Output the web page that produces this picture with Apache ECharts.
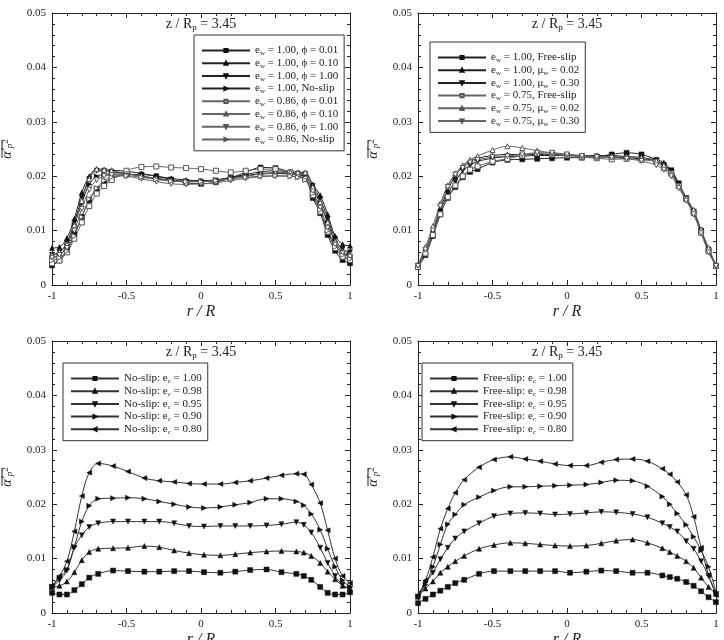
<!DOCTYPE html>
<html>
<head>
<meta charset="utf-8">
<script src="https://cdn.jsdelivr.net/npm/echarts@6/dist/echarts.min.js"></script>
<style>
  html, body { margin: 0; padding: 0; background: #fff; }
  #main { width: 724px; height: 640px; }
</style>
</head>
<body>
<div id="main"></div>
<script>
  // r/R sample positions
  const XT = [-1, -0.95, -0.9, -0.85, -0.8, -0.75, -0.7, -0.65, -0.6, -0.5, -0.4, -0.3, -0.2, -0.1, 0,
    0.1, 0.2, 0.3, 0.4, 0.5, 0.6, 0.65, 0.7, 0.75, 0.8, 0.85, 0.9, 0.95, 1];
  const XB = [-1, -0.95, -0.9, -0.85, -0.8, -0.75, -0.69, -0.59, -0.49, -0.38, -0.28, -0.18, -0.08, 0.02,
    0.13, 0.23, 0.33, 0.44, 0.54, 0.64, 0.69, 0.74, 0.8, 0.85, 0.9, 0.95, 1];

  // panel a: e_w and phi
  const namesA = ['e_w = 1.00, ϕ = 0.01', 'e_w = 1.00, ϕ = 0.10', 'e_w = 1.00, ϕ = 1.00', 'e_w = 1.00, No-slip',
    'e_w = 0.86, ϕ = 0.01', 'e_w = 0.86, ϕ = 0.10', 'e_w = 0.86, ϕ = 1.00', 'e_w = 0.86, No-slip'];
  const a1 = [0.0036, 0.0045, 0.0065, 0.0093, 0.0125, 0.0156, 0.0176, 0.0187, 0.0195, 0.0203, 0.0203, 0.0200, 0.0194, 0.0188, 0.0186, 0.0189, 0.0197, 0.0207, 0.0216, 0.0215, 0.0207, 0.0203, 0.0198, 0.0160, 0.0132, 0.0092, 0.0063, 0.0046, 0.0040];
  const a2 = [0.0068, 0.0070, 0.0086, 0.0122, 0.0170, 0.0200, 0.0213, 0.0212, 0.0211, 0.0209, 0.0205, 0.0200, 0.0196, 0.0193, 0.0192, 0.0193, 0.0198, 0.0203, 0.0208, 0.0210, 0.0208, 0.0207, 0.0206, 0.0185, 0.0165, 0.0130, 0.0090, 0.0075, 0.0072];
  const a3 = [0.0055, 0.0060, 0.0078, 0.0115, 0.0160, 0.0195, 0.0210, 0.0210, 0.0208, 0.0205, 0.0200, 0.0195, 0.0192, 0.0190, 0.0190, 0.0192, 0.0196, 0.0200, 0.0205, 0.0206, 0.0206, 0.0205, 0.0204, 0.0182, 0.0158, 0.0122, 0.0085, 0.0066, 0.0060];
  const a4 = [0.0050, 0.0055, 0.0072, 0.0110, 0.0150, 0.0185, 0.0200, 0.0203, 0.0204, 0.0204, 0.0200, 0.0196, 0.0193, 0.0191, 0.0191, 0.0193, 0.0197, 0.0201, 0.0204, 0.0205, 0.0204, 0.0203, 0.0200, 0.0176, 0.0150, 0.0115, 0.0080, 0.0060, 0.0054];
  const a5 = [0.0040, 0.0045, 0.0060, 0.0085, 0.0115, 0.0145, 0.0168, 0.0182, 0.0193, 0.0210, 0.0217, 0.0218, 0.0216, 0.0215, 0.0213, 0.0210, 0.0207, 0.0210, 0.0213, 0.0213, 0.0207, 0.0203, 0.0195, 0.0165, 0.0135, 0.0098, 0.0068, 0.0052, 0.0046];
  const a6 = [0.0055, 0.0060, 0.0075, 0.0110, 0.0155, 0.0195, 0.0213, 0.0212, 0.0210, 0.0205, 0.0200, 0.0196, 0.0192, 0.0190, 0.0190, 0.0192, 0.0196, 0.0200, 0.0204, 0.0206, 0.0207, 0.0207, 0.0207, 0.0180, 0.0152, 0.0115, 0.0080, 0.0062, 0.0056];
  const a7 = [0.0050, 0.0055, 0.0068, 0.0100, 0.0140, 0.0175, 0.0193, 0.0200, 0.0202, 0.0200, 0.0195, 0.0190, 0.0186, 0.0185, 0.0186, 0.0188, 0.0192, 0.0196, 0.0199, 0.0200, 0.0200, 0.0198, 0.0195, 0.0172, 0.0142, 0.0105, 0.0074, 0.0058, 0.0052];
  const a8 = [0.0045, 0.0050, 0.0062, 0.0090, 0.0125, 0.0158, 0.0178, 0.0192, 0.0198, 0.0201, 0.0198, 0.0194, 0.0191, 0.0190, 0.0190, 0.0192, 0.0195, 0.0198, 0.0200, 0.0201, 0.0200, 0.0198, 0.0193, 0.0168, 0.0138, 0.0100, 0.0070, 0.0055, 0.0048];

  // panel b: e_w and mu_w
  const namesB = ['e_w = 1.00, Free-slip', 'e_w = 1.00, μ_w = 0.02', 'e_w = 1.00, μ_w = 0.30',
    'e_w = 0.75, Free-slip', 'e_w = 0.75, μ_w = 0.02', 'e_w = 0.75, μ_w = 0.30'];
  const b1 = [0.0033, 0.0055, 0.0090, 0.0130, 0.0160, 0.0180, 0.0198, 0.0208, 0.0213, 0.0225, 0.0230, 0.0231, 0.0232, 0.0233, 0.0234, 0.0234, 0.0236, 0.0240, 0.0243, 0.0240, 0.0230, 0.0220, 0.0211, 0.0187, 0.0160, 0.0135, 0.0100, 0.0065, 0.0035];
  const b2 = [0.0035, 0.0065, 0.0100, 0.0140, 0.0175, 0.0200, 0.0218, 0.0228, 0.0233, 0.0238, 0.0240, 0.0240, 0.0240, 0.0240, 0.0239, 0.0238, 0.0238, 0.0238, 0.0236, 0.0234, 0.0230, 0.0225, 0.0210, 0.0185, 0.0160, 0.0135, 0.0100, 0.0065, 0.0035];
  const b3 = [0.0035, 0.0060, 0.0095, 0.0135, 0.0168, 0.0190, 0.0210, 0.0220, 0.0227, 0.0233, 0.0236, 0.0237, 0.0238, 0.0238, 0.0238, 0.0237, 0.0236, 0.0235, 0.0234, 0.0232, 0.0228, 0.0220, 0.0208, 0.0183, 0.0158, 0.0132, 0.0098, 0.0063, 0.0035];
  const b4 = [0.0033, 0.0058, 0.0092, 0.0130, 0.0162, 0.0183, 0.0200, 0.0212, 0.0218, 0.0227, 0.0232, 0.0238, 0.0242, 0.0240, 0.0238, 0.0235, 0.0233, 0.0231, 0.0232, 0.0230, 0.0226, 0.0215, 0.0205, 0.0182, 0.0158, 0.0132, 0.0096, 0.0062, 0.0035];
  const b5 = [0.0038, 0.0070, 0.0108, 0.0150, 0.0183, 0.0205, 0.0220, 0.0230, 0.0237, 0.0248, 0.0255, 0.0252, 0.0247, 0.0243, 0.0240, 0.0238, 0.0236, 0.0236, 0.0236, 0.0234, 0.0228, 0.0220, 0.0205, 0.0182, 0.0160, 0.0138, 0.0102, 0.0068, 0.0038];
  const b6 = [0.0035, 0.0065, 0.0100, 0.0145, 0.0180, 0.0203, 0.0215, 0.0225, 0.0230, 0.0235, 0.0237, 0.0240, 0.0243, 0.0243, 0.0240, 0.0237, 0.0235, 0.0234, 0.0232, 0.0228, 0.0220, 0.0212, 0.0200, 0.0178, 0.0155, 0.0130, 0.0095, 0.0060, 0.0035];

  // panel c: no-slip, e_c
  const namesC = ['No-slip: e_c = 1.00', 'No-slip: e_c = 0.98', 'No-slip: e_c = 0.95', 'No-slip: e_c = 0.90', 'No-slip: e_c = 0.80'];
  const c1 = [0.0037, 0.0034, 0.0034, 0.0042, 0.0053, 0.0065, 0.0072, 0.0078, 0.0077, 0.0076, 0.0076, 0.0077, 0.0077, 0.0075, 0.0074, 0.0076, 0.0079, 0.0080, 0.0075, 0.0072, 0.0068, 0.0061, 0.0048, 0.0037, 0.0034, 0.0034, 0.0038];
  const c2 = [0.0048, 0.0050, 0.0058, 0.0075, 0.0097, 0.0112, 0.0118, 0.0119, 0.0120, 0.0123, 0.0121, 0.0115, 0.0110, 0.0107, 0.0106, 0.0108, 0.0111, 0.0113, 0.0114, 0.0113, 0.0111, 0.0105, 0.0092, 0.0076, 0.0062, 0.0050, 0.0044];
  const c3 = [0.0048, 0.0060, 0.0078, 0.0120, 0.0143, 0.0158, 0.0165, 0.0168, 0.0168, 0.0168, 0.0168, 0.0165, 0.0160, 0.0159, 0.0160, 0.0160, 0.0160, 0.0161, 0.0163, 0.0167, 0.0162, 0.0148, 0.0120, 0.0092, 0.0068, 0.0052, 0.0045];
  const c4 = [0.0048, 0.0065, 0.0080, 0.0122, 0.0168, 0.0197, 0.0210, 0.0211, 0.0212, 0.0210, 0.0205, 0.0200, 0.0195, 0.0193, 0.0195, 0.0199, 0.0203, 0.0210, 0.0210, 0.0205, 0.0198, 0.0182, 0.0153, 0.0118, 0.0085, 0.0060, 0.0048];
  const c5 = [0.0050, 0.0068, 0.0095, 0.0150, 0.0215, 0.0258, 0.0275, 0.0270, 0.0260, 0.0248, 0.0243, 0.0241, 0.0238, 0.0237, 0.0237, 0.0240, 0.0243, 0.0248, 0.0253, 0.0256, 0.0255, 0.0236, 0.0202, 0.0152, 0.0100, 0.0068, 0.0055];

  // panel d: free-slip, e_c
  const namesD = ['Free-slip: e_c = 1.00', 'Free-slip: e_c = 0.98', 'Free-slip: e_c = 0.95', 'Free-slip: e_c = 0.90', 'Free-slip: e_c = 0.80'];
  const d1 = [0.0018, 0.0026, 0.0034, 0.0041, 0.0048, 0.0055, 0.0061, 0.0072, 0.0077, 0.0077, 0.0077, 0.0077, 0.0077, 0.0074, 0.0076, 0.0078, 0.0077, 0.0074, 0.0074, 0.0069, 0.0066, 0.0063, 0.0057, 0.0050, 0.0040, 0.0029, 0.0020];
  const d2 = [0.0030, 0.0045, 0.0058, 0.0074, 0.0085, 0.0095, 0.0105, 0.0118, 0.0125, 0.0129, 0.0128, 0.0126, 0.0124, 0.0123, 0.0124, 0.0128, 0.0133, 0.0135, 0.0129, 0.0119, 0.0112, 0.0105, 0.0095, 0.0083, 0.0065, 0.0048, 0.0035];
  const d3 = [0.0030, 0.0055, 0.0074, 0.0099, 0.0120, 0.0137, 0.0150, 0.0165, 0.0178, 0.0183, 0.0184, 0.0183, 0.0181, 0.0182, 0.0184, 0.0186, 0.0185, 0.0182, 0.0176, 0.0165, 0.0158, 0.0150, 0.0132, 0.0118, 0.0095, 0.0068, 0.0035];
  const d4 = [0.0030, 0.0052, 0.0085, 0.0126, 0.0163, 0.0181, 0.0199, 0.0213, 0.0225, 0.0232, 0.0232, 0.0233, 0.0234, 0.0235, 0.0236, 0.0240, 0.0244, 0.0243, 0.0233, 0.0214, 0.0200, 0.0183, 0.0162, 0.0140, 0.0115, 0.0085, 0.0038];
  const d5 = [0.0033, 0.0060, 0.0103, 0.0155, 0.0192, 0.0221, 0.0245, 0.0268, 0.0282, 0.0287, 0.0283, 0.0279, 0.0274, 0.0271, 0.0271, 0.0277, 0.0282, 0.0283, 0.0279, 0.0265, 0.0255, 0.0241, 0.0217, 0.0177, 0.0120, 0.0070, 0.0033];

  const FONT = 'Liberation Serif';
  const SQ = { shape: 'rect', rot: 0 }, UP = { shape: 'triangle', rot: 0 }, DN = { shape: 'triangle', rot: 180 },
    RT = { shape: 'triangle', rot: -90 }, LT = { shape: 'triangle', rot: 90 };

  const grids = [
    { left: 52, top: 13, width: 298, height: 272, outerBoundsMode: 'none' },
    { left: 418, top: 13, width: 298, height: 272, outerBoundsMode: 'none' },
    { left: 52, top: 341, width: 298, height: 272, outerBoundsMode: 'none' },
    { left: 418, top: 341, width: 298, height: 272, outerBoundsMode: 'none' }
  ];

  const tick = { show: true, inside: true, length: 5, lineStyle: { color: '#222' } };
  const minor = { show: true, splitNumber: 5, length: 3, lineStyle: { color: '#222' } };
  const line = { show: true, onZero: false, lineStyle: { color: '#222', width: 1 } };
  const lbl = { fontFamily: FONT, fontSize: 11, color: '#222' };

  const xAxis = [], yAxis = [];
  grids.forEach((g, i) => {
    xAxis[i] = {
      type: 'value', gridIndex: i, min: -1, max: 1, interval: 0.5, position: 'bottom',
      axisLine: line, axisTick: tick, minorTick: minor, splitLine: { show: false },
      axisLabel: Object.assign({ margin: 6 }, lbl),
      name: 'r / R', nameLocation: 'middle', nameGap: 19,
      nameTextStyle: { fontFamily: FONT, fontSize: 16, fontStyle: 'italic', color: '#222' }
    };
    xAxis[i + 4] = {
      type: 'value', gridIndex: i, min: -1, max: 1, interval: 0.5, position: 'top',
      axisLine: line, axisTick: tick, minorTick: minor, splitLine: { show: false }, axisLabel: { show: false }
    };
    yAxis[i] = {
      type: 'value', gridIndex: i, min: 0, max: 0.05, interval: 0.01, position: 'left',
      axisLine: line, axisTick: tick, minorTick: minor, splitLine: { show: false },
      axisLabel: Object.assign({ margin: 6, formatter: v => v === 0 ? '0' : v.toFixed(2) }, lbl),
      name: '{a|α′}{p|p}{t|2}', nameLocation: 'middle', nameRotate: 90, nameGap: 38,
      nameTextStyle: {
        fontFamily: FONT, color: '#222',
        rich: {
          a: { fontFamily: FONT, fontSize: 14, fontStyle: 'italic', lineHeight: 13 },
          p: { fontFamily: FONT, fontSize: 9, fontStyle: 'italic', lineHeight: 8, verticalAlign: 'bottom' },
          t: { fontFamily: FONT, fontSize: 9, lineHeight: 8, verticalAlign: 'top' }
        }
      }
    };
    yAxis[i + 4] = {
      type: 'value', gridIndex: i, min: 0, max: 0.05, interval: 0.01, position: 'right',
      axisLine: line, axisTick: tick, minorTick: minor, splitLine: { show: false }, axisLabel: { show: false }
    };
  });

  function pairs(xs, ys) { return xs.map((x, k) => [x, ys[k]]); }

  function mk(name, xs, ys, sym, filled, gi, lineColor) {
    return {
      name: name, type: 'line', xAxisIndex: gi, yAxisIndex: gi,
      data: pairs(xs, ys), smooth: 0.35, showAllSymbol: true,
      symbol: sym.shape, symbolRotate: sym.rot, symbolSize: 5,
      lineStyle: { color: lineColor, width: 1 },
      itemStyle: filled ? { color: '#111', borderColor: '#111', borderWidth: 0.5 }
        : { color: '#fff', borderColor: '#555', borderWidth: 1 },
      emphasis: { disabled: true }
    };
  }

  const series = [
    mk(namesA[0], XT, a1, SQ, true, 0, '#222'),
    mk(namesA[1], XT, a2, UP, true, 0, '#222'),
    mk(namesA[2], XT, a3, DN, true, 0, '#222'),
    mk(namesA[3], XT, a4, RT, true, 0, '#222'),
    mk(namesA[4], XT, a5, SQ, false, 0, '#666'),
    mk(namesA[5], XT, a6, UP, false, 0, '#666'),
    mk(namesA[6], XT, a7, DN, false, 0, '#666'),
    mk(namesA[7], XT, a8, RT, false, 0, '#666'),
    mk(namesB[0], XT, b1, SQ, true, 1, '#222'),
    mk(namesB[1], XT, b2, UP, true, 1, '#222'),
    mk(namesB[2], XT, b3, DN, true, 1, '#222'),
    mk(namesB[3], XT, b4, SQ, false, 1, '#666'),
    mk(namesB[4], XT, b5, UP, false, 1, '#666'),
    mk(namesB[5], XT, b6, DN, false, 1, '#666'),
    mk(namesC[0], XB, c1, SQ, true, 2, '#333'),
    mk(namesC[1], XB, c2, UP, true, 2, '#333'),
    mk(namesC[2], XB, c3, DN, true, 2, '#333'),
    mk(namesC[3], XB, c4, RT, true, 2, '#333'),
    mk(namesC[4], XB, c5, LT, true, 2, '#333'),
    mk(namesD[0], XB, d1, SQ, true, 3, '#333'),
    mk(namesD[1], XB, d2, UP, true, 3, '#333'),
    mk(namesD[2], XB, d3, DN, true, 3, '#333'),
    mk(namesD[3], XB, d4, RT, true, 3, '#333'),
    mk(namesD[4], XB, d5, LT, true, 3, '#333')
  ];

  const legRich = {
    n: { fontFamily: FONT, fontSize: 11, color: '#222', lineHeight: 12.8 },
    s: { fontFamily: FONT, fontSize: 7, color: '#222', lineHeight: 8, verticalAlign: 'bottom' }
  };
  function legFmt(name) {
    return '{n|' + name.replace(/_(\w)/g, '}{s|$1}{n|') + '}';
  }
  function legend(names, left, top) {
    return {
      data: names, orient: 'vertical', left: left, top: top, selectedMode: false,
      backgroundColor: '#fff', borderColor: '#333', borderWidth: 1, borderRadius: 0,
      padding: [10, 6, 5, 7], itemWidth: 48, itemHeight: 4, itemGap: 0.8,
      formatter: legFmt, textStyle: { fontFamily: FONT, fontSize: 11, color: '#222', rich: legRich }
    };
  }

  const titleRich = {
    n: { fontFamily: FONT, fontSize: 14, fontWeight: 'normal', color: '#222', lineHeight: 16 },
    s: { fontFamily: FONT, fontSize: 9, fontWeight: 'normal', color: '#222', lineHeight: 9, verticalAlign: 'bottom' }
  };
  const title = grids.map(g => ({
    text: '{n|z / R}{s|p}{n| = 3.45}', left: g.left + g.width / 2, top: g.top + 3,
    textAlign: 'center', padding: 0, textStyle: { fontWeight: 'normal', rich: titleRich }
  }));

  // overline of the y-axis symbol
  const graphic = grids.map(g => ({
    type: 'line', silent: true,
    shape: { x1: g.left - 50, y1: g.top + 127, x2: g.left - 50, y2: g.top + 145 },
    style: { stroke: '#222', lineWidth: 1 }
  }));

  const chart = echarts.init(document.getElementById('main'));
  chart.setOption({
    backgroundColor: '#fff',
    animation: false,
    title: title,
    grid: grids,
    xAxis: xAxis,
    yAxis: yAxis,
    legend: [
      legend(namesA, 194, 35),
      legend(namesB, 430, 42),
      legend(namesC, 63, 363),
      legend(namesD, 422, 363)
    ],
    graphic: graphic,
    series: series
  });
</script>
</body>
</html>
